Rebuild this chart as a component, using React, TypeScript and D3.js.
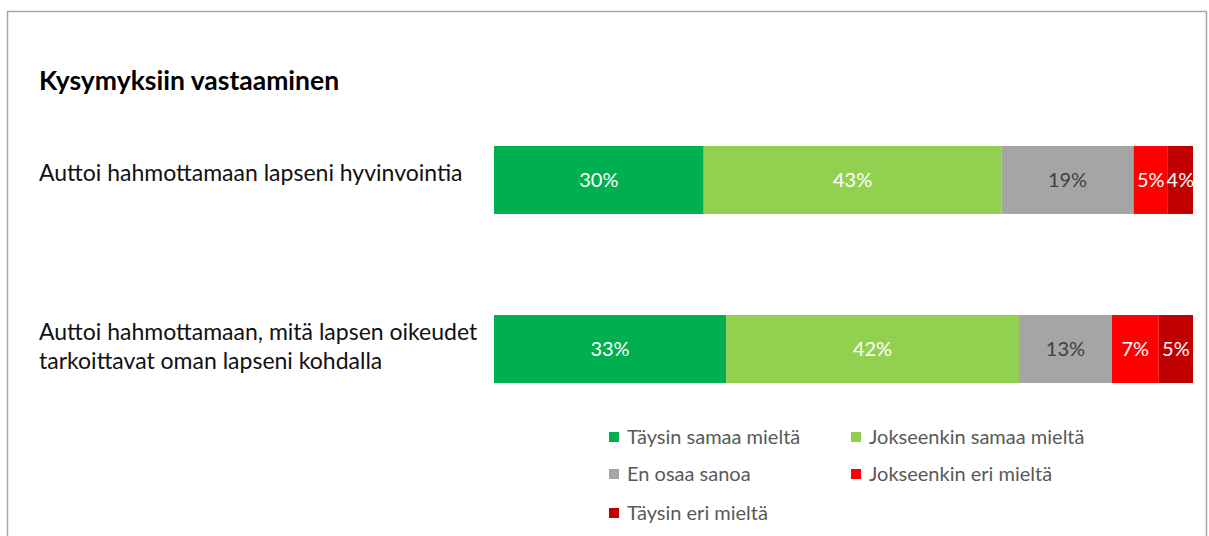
import React from "react";
import * as d3 from "d3";

const categories = [
  ["Auttoi hahmottamaan lapseni hyvinvointia"],
  ["Auttoi hahmottamaan, mitä lapsen oikeudet", "tarkoittavat oman lapseni kohdalla"],
];
const seriesNames = [
  "Täysin samaa mieltä",
  "Jokseenkin samaa mieltä",
  "En osaa sanoa",
  "Jokseenkin eri mieltä",
  "Täysin eri mieltä",
];
const row1 = [30.0, 42.6, 18.9, 4.9, 3.6];
const row2 = [33.2, 41.9, 13.3, 6.7, 4.9];
const colors = ["#00B050", "#92D050", "#A5A5A5", "#FF0000", "#C00000"];
const labelColors = ["#ffffff", "#ffffff", "#404040", "#ffffff", "#ffffff"];

const W = 1209;
const H = 536;
const FONT = "Lato, 'Open Sans', sans-serif";

export default function App() {
  const rows = [row1, row2];
  const x = d3.scaleLinear().domain([0, 100]).range([494, 1193]);
  const y = d3.scaleBand<number>().domain([0, 1]).range([146, 383]).paddingInner(0.598).paddingOuter(0);
  const stacked = rows.map((r) => {
    let acc = 0;
    return r.map((v) => {
      const s = acc;
      acc += v;
      return [s, acc, v];
    });
  });
  const legendPos = [
    [609, 437],
    [851, 437],
    [609, 474],
    [851, 474],
    [609, 513],
  ];
  return (
    <svg width={W} height={H} style={{ position: "absolute", left: 0, top: 0 }} fontFamily={FONT}>
      <rect x={0} y={0} width={W} height={H} fill="#fff" />
      <rect x={7.5} y={11.5} width={1199} height={540} fill="#fff" stroke="#A6A6A6" strokeWidth={1.5} />
      <text x={39} y={90} fontSize={26.5} fontWeight={700} fill="#000">
        Kysymyksiin vastaaminen
      </text>
      {rows.map((r, i) => {
        const y0 = y(i)!;
        const bh = y.bandwidth();
        const lines = categories[i];
        const cy = y0 + bh / 2;
        const off = lines.length > 1 ? -3 : -7;
        return (
          <g key={i}>
            {stacked[i].map(([s, e, v], j) => (
              <g key={j}>
                <rect x={x(s)} y={y0} width={x(e) - x(s)} height={bh} fill={colors[j]} />
                <text
                  x={(x(s) + x(e)) / 2}
                  y={cy}
                  dy="0.35em"
                  textAnchor="middle"
                  fontSize={20}
                  fill={labelColors[j]}
                >
                  {Math.round(v)}%
                </text>
              </g>
            ))}
            {lines.map((l, k) => (
              <text
                key={k}
                x={39}
                y={cy + off + (k - (lines.length - 1) / 2) * 29}
                dy="0.35em"
                fontSize={23}
                fill="#111"
              >
                {l}
              </text>
            ))}
          </g>
        );
      })}
      {seriesNames.map((n, j) => (
        <g key={n}>
          <rect x={legendPos[j][0]} y={legendPos[j][1] - 5} width={10} height={10} fill={colors[j]} />
          <text x={legendPos[j][0] + 18} y={legendPos[j][1]} dy="0.35em" fontSize={20} fill="#595959">
            {n}
          </text>
        </g>
      ))}
    </svg>
  );
}
